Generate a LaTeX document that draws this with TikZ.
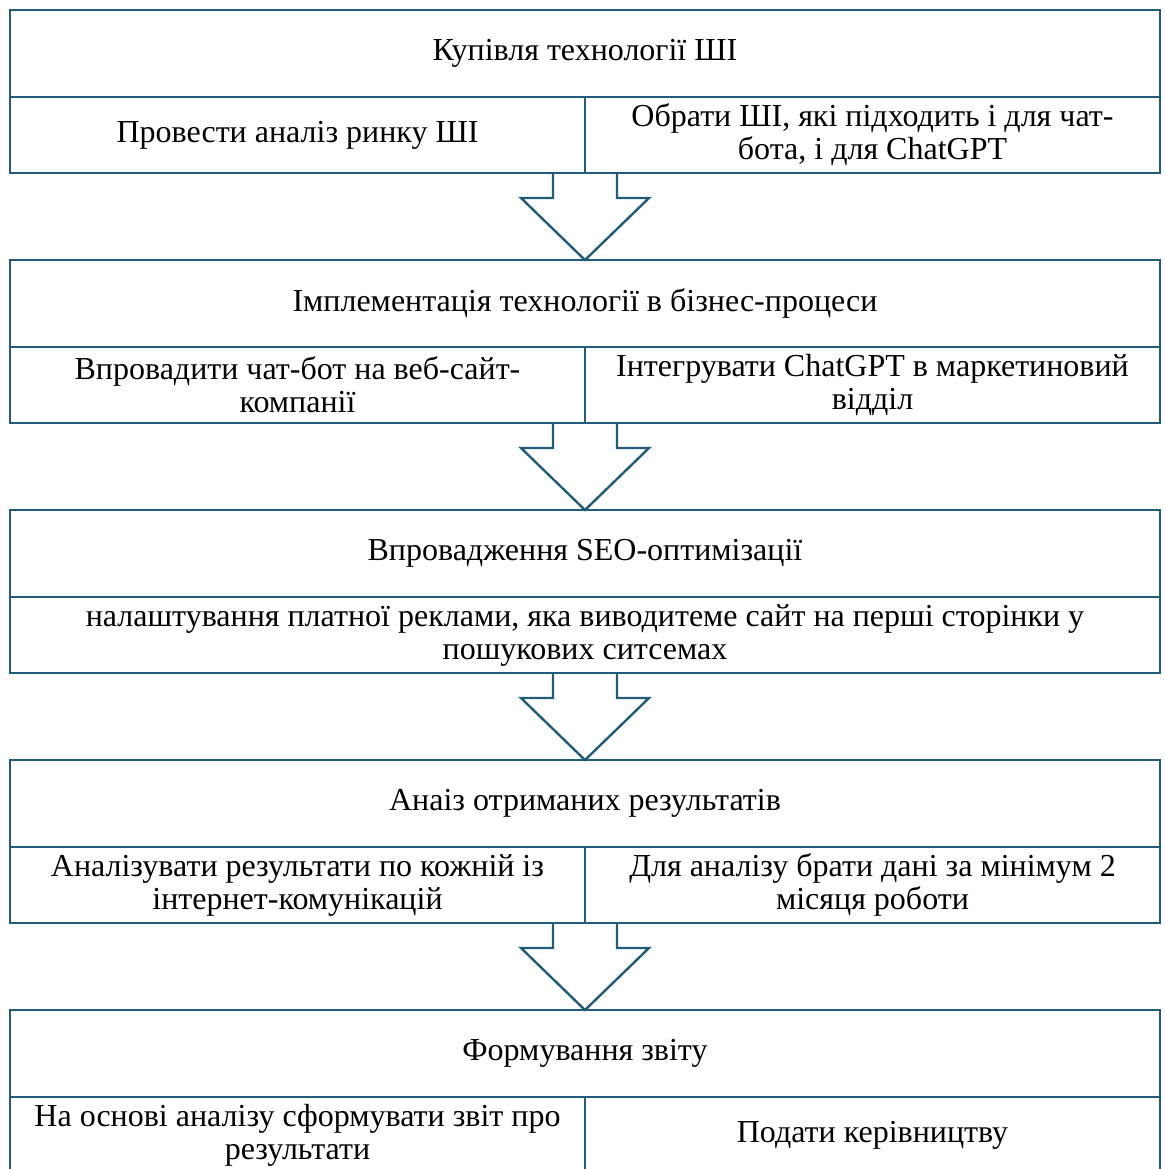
\documentclass[tikz,border=0pt]{standalone}
\usepackage{fontspec}
\setmainfont{Liberation Serif}
\usetikzlibrary{positioning}
\definecolor{frame}{RGB}{33,92,122}

\tikzset{
  head/.style={draw=frame, line width=1.2pt, minimum width=575pt, minimum height=43.5pt, inner sep=0pt, outer sep=0pt, align=center},
  cell/.style={draw=frame, line width=1.2pt, minimum width=287.5pt, minimum height=38pt, inner sep=0pt, outer sep=0pt, align=center},
  wide/.style={cell, minimum width=575pt},
  blockarrow/.style={draw=frame, line width=1.2pt, line join=miter}
}

\begin{document}
\begin{tikzpicture}[font=\fontsize{16}{16.5}\selectfont]
\useasboundingbox (0,0) rectangle (582.5pt,-584.5pt);

\node[head] (h1) at (292.5pt,-26.75pt) {Купівля технології ШІ};
\node[cell, below right=0pt of h1.south west] (l1) {Провести аналіз ринку ШІ};
\node[cell, below left=0pt of h1.south east] (r1) {Обрати ШІ, які підходить і для чат-\\бота, і для ChatGPT};
\coordinate (s1) at (h1.south |- l1.south);

\node[head, below=81.5pt of h1] (h2) {Імплементація технології в бізнес-процеси};
\node[cell, below right=0pt of h2.south west] (l2) {Впровадити чат-бот на веб-сайт-\\компанії};
\node[cell, below left=0pt of h2.south east] (r2) {Інтегрувати ChatGPT в маркетиновий\\відділ};
\coordinate (s2) at (h2.south |- l2.south);

\node[head, below=81.5pt of h2] (h3) {Впровадження SEO-оптимізації};
\node[wide, below=0pt of h3] (l3) {налаштування платної реклами, яка виводитеме сайт на перші сторінки у\\пошукових ситсемах};
\coordinate (s3) at (l3.south);

\node[head, below=81.5pt of h3] (h4) {Анаіз отриманих результатів};
\node[cell, below right=0pt of h4.south west] (l4) {Аналізувати результати по кожній із\\інтернет-комунікацій};
\node[cell, below left=0pt of h4.south east] (r4) {Для аналізу брати дані за мінімум 2\\місяця роботи};
\coordinate (s4) at (h4.south |- l4.south);

\node[head, below=81.5pt of h4] (h5) {Формування звіту};
\node[cell, below right=0pt of h5.south west] (l5) {На основі аналізу сформувати звіт про\\результати};
\node[cell, below left=0pt of h5.south east] (r5) {Подати керівництву};

% hollow arrows between the stages
\foreach \i/\j in {1/2,2/3,3/4,4/5}
  \draw[blockarrow] ([xshift=-16pt]s\i) -- ++(0,-12.5pt) -- ++(-16pt,0) -- (h\j.north)
    -- ([xshift=32pt,yshift=-12.5pt]s\i) -- ++(-16pt,0) -- ([xshift=16pt]s\i);
\end{tikzpicture}
\end{document}
